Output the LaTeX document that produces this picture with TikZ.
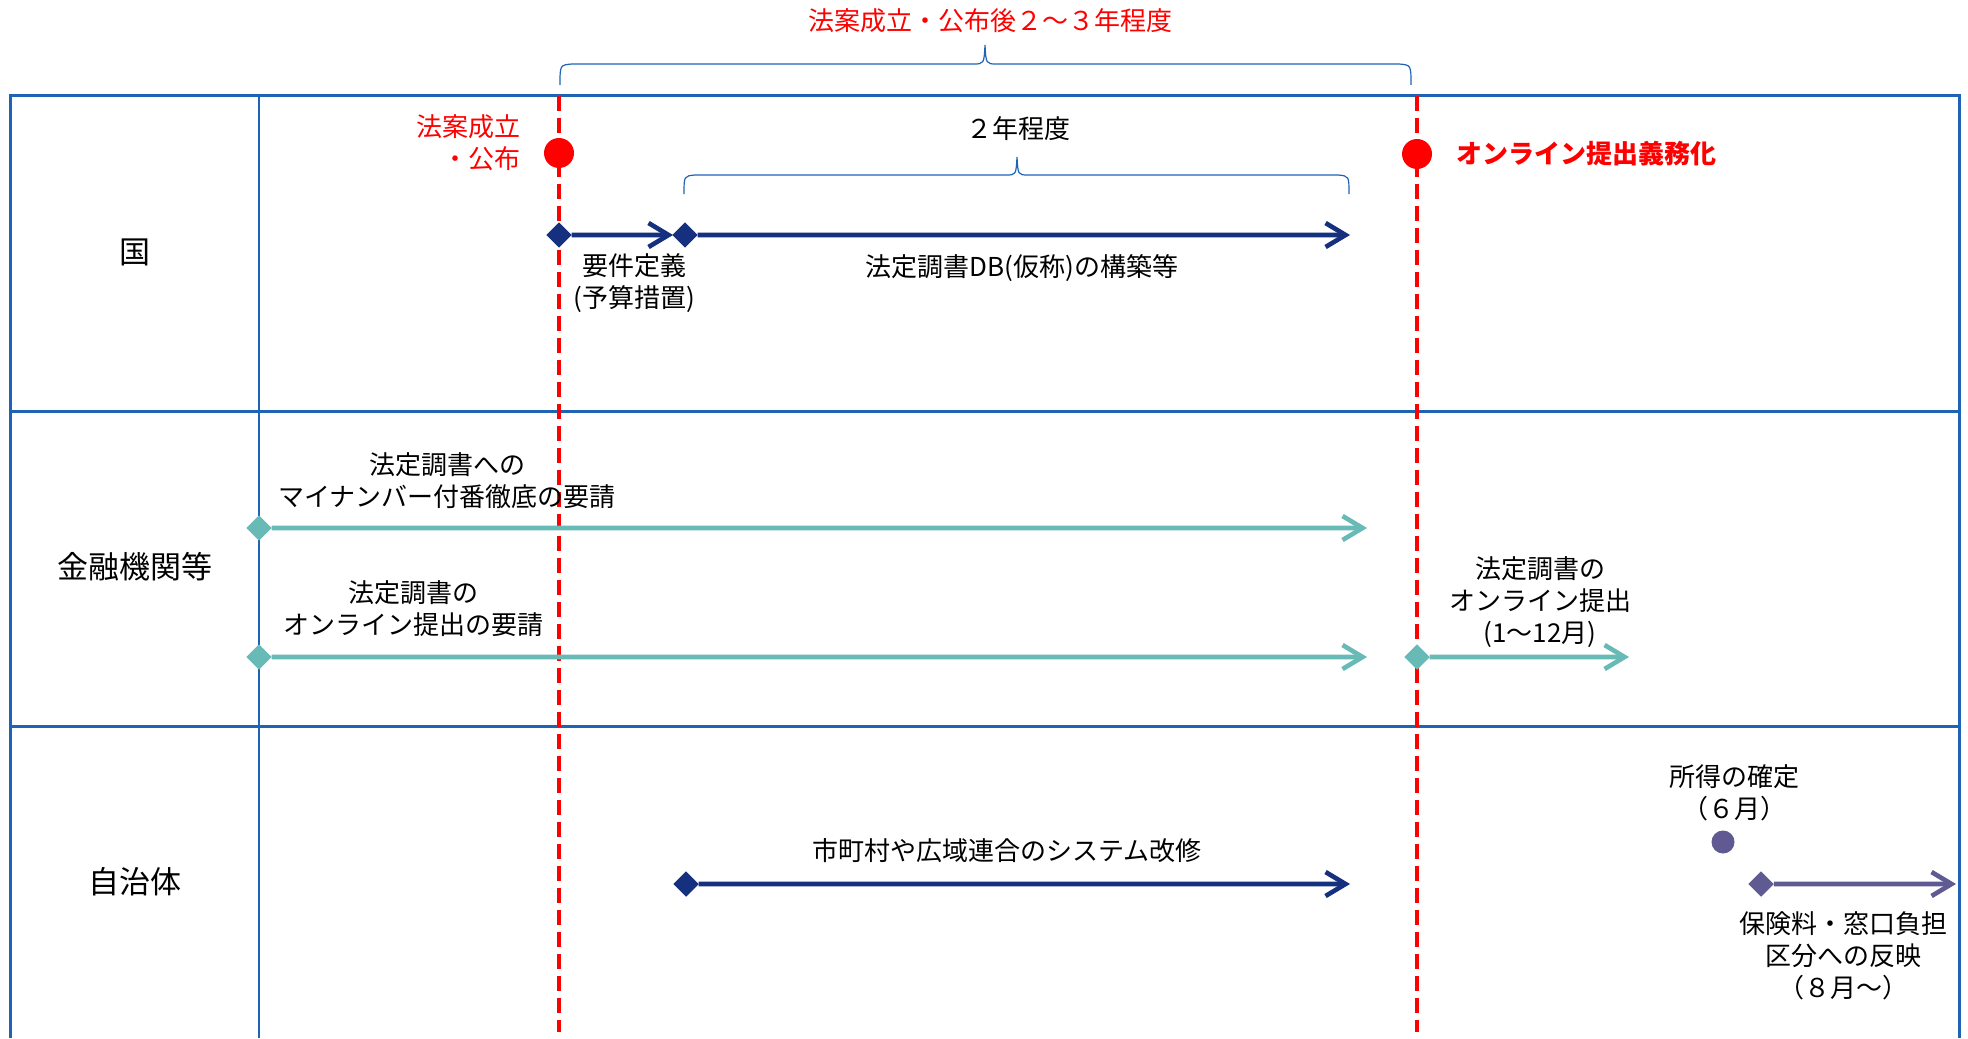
\documentclass[tikz,border=0pt]{standalone}
\usepackage{fontspec}
\setmainfont{Noto Sans CJK JP}
\usetikzlibrary{arrows.meta,shapes.geometric}
\definecolor{frameblue}{RGB}{31,100,180}
\definecolor{navy}{RGB}{20,48,127}
\definecolor{teal2}{RGB}{104,186,182}
\definecolor{purp}{RGB}{95,90,146}
\definecolor{redc}{RGB}{255,0,0}
\tikzset{
  txt/.style={font=\fontsize{13pt}{16pt}\selectfont, inner sep=0pt, align=center, text=black},
  rowlabel/.style={font=\fontsize{15.5pt}{18pt}\selectfont, inner sep=0pt, text=black},
  redtxt/.style={txt, text=redc},
  frameline/.style={draw=frameblue, line width=1.5pt},
  divline/.style={draw=frameblue, line width=1.1pt},
  bracel/.style={draw=frameblue, line width=0.6pt},
  redline/.style={draw=redc, line width=2pt, dash pattern=on 7.5pt off 3.5pt},
  dia/.style={rectangle, rotate=45, minimum size=9pt, inner sep=0pt, outer sep=0pt, fill=#1},
  dot/.style={circle, minimum size=#1, inner sep=0pt},
  arr/.style={draw=#1, line width=2.3pt, -{Straight Barb[length=10pt,width=12pt]}},
}
\begin{document}
\begin{tikzpicture}[x=0.5pt,y=-0.5pt]
\useasboundingbox (0,0) rectangle (1968,1038);
\fill[white] (0,0) rectangle (1968,1038);

% frame
\draw[frameline] (10,1038) -- (10,96) -- (1959,96) -- (1959,1038);
\draw[frameline] (10,411) -- (1959,411);
\draw[frameline] (10,726) -- (1959,726);
\draw[divline] (259,96) -- (259,1038);

% row labels
\node[rowlabel] (lkuni) at (135,252) {国};
\node[rowlabel] (lkin) at (135,567) {金融機関等};
\node[rowlabel] (ljichi) at (135,882) {自治体};

% top brace and label
\node[redtxt] (toplbl) at (990,21) {法案成立・公布後２～３年程度};
\draw[bracel] (560,85) .. controls (560,65) .. (572,64) -- (973,64) .. controls (984,64) .. (985,45) .. controls (986,64) .. (997,64) -- (1399,64) .. controls (1411,65) .. (1411,85);

% 2-year brace
\node[txt] (twoyr) at (1018,129) {２年程度};
\draw[bracel] (684,194) .. controls (684,176) .. (695,175) -- (1006,175) .. controls (1016,175) .. (1017,157) .. controls (1018,175) .. (1028,175) -- (1338,175) .. controls (1349,176) .. (1349,194);

% red dashed lines
\coordinate (r1top) at (559,96);
\coordinate (r1bot) at (559,1032);
\coordinate (r2top) at (1417,96);
\coordinate (r2bot) at (1417,1032);
\draw[redline] (r1top) -- (r1bot);
\draw[redline] (r2top) -- (r2bot);

% red milestones
\node[dot=15pt, fill=redc] (m1) at (559,153) {};
\node[dot=15pt, fill=redc] (m2) at (1417,154) {};
\node[redtxt, anchor=east, align=right] (m1lbl) at (521,143) {法案成立\\・公布};
\node[redtxt, font=\fontsize{13pt}{16pt}\selectfont\bfseries, anchor=west] (m2lbl) at (1456,154) {オンライン提出義務化};

% row 1 arrows
\node[dia=navy] (d1) at (559,235) {};
\coordinate (e1) at (673,235);
\node[dia=navy] (d2) at (685,235) {};
\coordinate (e2) at (1350,235);
\draw[arr=navy] (d1) -- (e1);
\draw[arr=navy] (d2) -- (e2);
\node[txt] (l1) at (634,283) {要件定義\\(予算措置)};
\node[txt] (l2) at (1022,268) {法定調書DB(仮称)の構築等};

% row 2 arrows
\node[dia=teal2] (t1) at (259,528) {};
\coordinate (f1) at (1367,528);
\node[dia=teal2] (t2) at (259,657) {};
\coordinate (f2) at (1367,657);
\node[dia=teal2] (t3) at (1417,657) {};
\coordinate (f3) at (1629,657);
\draw[arr=teal2] (t1) -- (f1);
\draw[arr=teal2] (t2) -- (f2);
\draw[arr=teal2] (t3) -- (f3);
\node[txt] (k1) at (447,481) {法定調書への\\マイナンバー付番徹底の要請};
\node[txt] (k2) at (413,609) {法定調書の\\オンライン提出の要請};
\node[txt] (k3) at (1540,602) {法定調書の\\オンライン提出\\(1～12月)};

% row 3 arrows
\node[dia=navy] (d3) at (686,884) {};
\coordinate (e3) at (1350,884);
\draw[arr=navy] (d3) -- (e3);
\node[txt] (j1) at (1007,851) {市町村や広域連合のシステム改修};
\node[dot=11.5pt, fill=purp] (pd) at (1723,842) {};
\node[txt] (j2) at (1734,793) {所得の確定\\（６月）};
\node[dia=purp] (p1) at (1761,884) {};
\coordinate (g1) at (1956,884);
\draw[arr=purp] (p1) -- (g1);
\node[txt] (j3) at (1843,956) {保険料・窓口負担\\区分への反映\\（８月～）};
\end{tikzpicture}
\end{document}
